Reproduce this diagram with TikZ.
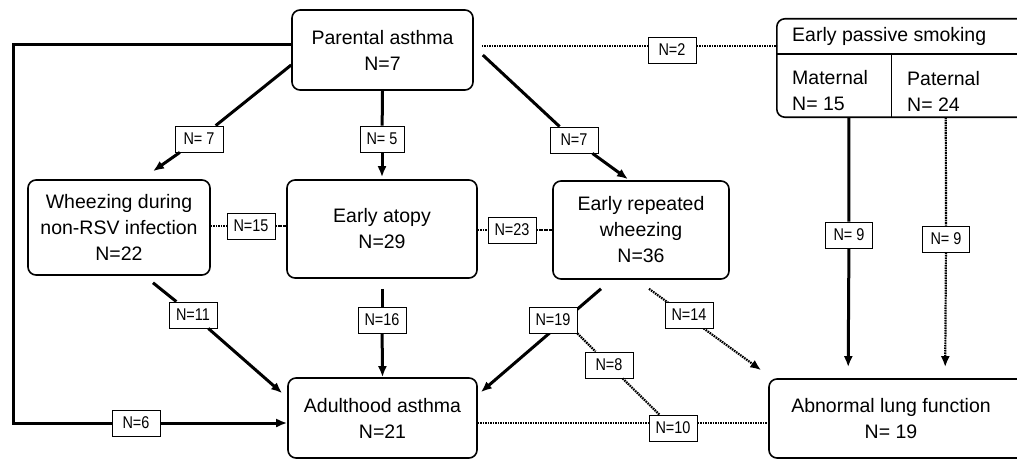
\documentclass[tikz,border=0pt]{standalone}
\usepackage{fontspec}
\setmainfont{Liberation Sans}
\newfontfamily\lblfont[FakeStretch=0.85]{Liberation Sans}
\usetikzlibrary{arrows.meta,calc}
\begin{document}
\begin{tikzpicture}[x=1pt,y=-1pt,
  box/.style={draw,line width=1.6pt,rounded corners=8pt,align=center,inner sep=0pt,font=\fontsize{19.5}{26}\selectfont},
  txt/.style={inner sep=0pt,align=left,font=\fontsize{19.5}{26}\selectfont},
  lbl/.style={draw,line width=0.8pt,fill=white,inner sep=0pt,minimum width=48pt,minimum height=26pt,font=\lblfont\fontsize{17}{18}\selectfont},
  solidcon/.style={line width=3pt},
  dotcon/.style={line width=2.2pt,dash pattern=on 1.6pt off 0.9pt},
  arr/.style={-{Latex[length=11pt,width=9pt]}},
]
\useasboundingbox (0,0) rectangle (1017,460);
\clip (0,0) rectangle (1017,460);
\fill[white] (0,0) rectangle (1017,460);

% main boxes
\node[box,minimum width=181pt,minimum height=80pt] (pa) at (382.5,50) {Parental asthma\\N=7};
\node[box,minimum width=182pt,minimum height=95pt] (wh) at (119,227.5) {Wheezing during\\non-RSV infection\\N=22};
\node[box,minimum width=190pt,minimum height=98pt] (at) at (382,229) {Early atopy\\N=29};
\node[box,minimum width=176pt,minimum height=98pt] (er) at (641,230) {Early repeated\\wheezing\\N=36};
\node[box,minimum width=189pt,minimum height=80pt] (aa) at (382.5,418) {Adulthood asthma\\N=21};
\node[box,minimum width=256pt,minimum height=79pt] (al) at (897,418.5) {\hspace*{-12pt}Abnormal lung function\\\hspace*{-12pt}N= 19};

% passive smoking box
\node[inner sep=0pt,minimum width=253pt,minimum height=98pt] (eps) at (903.5,68) {};
\draw[line width=1.6pt,rounded corners=8pt] (eps.north east) -- (eps.north west) -- (eps.south west) -- (eps.south east);
\draw[line width=1.6pt] ([yshift=-35pt]eps.north west) -- ([yshift=-35pt]eps.north east);
\draw[line width=1.2pt] ([xshift=115pt,yshift=-35pt]eps.north west) -- ([xshift=115pt]eps.south west);
\node[txt,anchor=west] (epst) at (792,36) {Early passive smoking};
\node[txt,anchor=west] (mat) at (792,91) {Maternal\\N= 15};
\node[txt,anchor=west] (pat) at (907,91) {Paternal\\N= 24};

% labels on through-lines
\node[lbl] (l7a) at (199,139) {N= 7};
\node[lbl,minimum width=44pt] (l5) at (382,139) {N= 5};
\node[lbl] (l7b) at (574,140) {N=7};
\node[lbl] (l6) at (136,423) {N=6};
\node[lbl] (l15) at (251,226) {N=15};
\node[lbl] (l23) at (512,230) {N=23};
\node[lbl] (l11) at (193,315) {N=11};
\node[lbl] (l16) at (382,320) {N=16};
\node[lbl,minimum width=47pt] (l9a) at (849,235) {N= 9};
\node[lbl,minimum width=47pt] (l9b) at (946,239) {N= 9};

% parental asthma connectors
\draw[solidcon] ([yshift=-15pt]pa.west) -- (l7a);
\draw[solidcon,arr] (l7a) -- ([xshift=34pt,yshift=8pt]wh.north);
\draw[solidcon] (pa.south) -- (l5);
\draw[solidcon,arr] (l5) -- ([yshift=2pt]at.north);
\draw[solidcon] ([xshift=9pt,yshift=-5pt]pa.east) -- (l7b);
\draw[solidcon,arr] (l7b) -- ([xshift=-13pt,yshift=1pt]er.north);
\coordinate (lc) at (13,423);
\draw[solidcon] ([yshift=5pt]pa.west) -| (lc) -- (l6);
\draw[solidcon,arr] (l6) -- ([yshift=-5pt]aa.west);
\draw[dotcon] ([xshift=8pt,yshift=4pt]pa.east) -- ([yshift=22pt]eps.west);
\node[lbl] (l2) at (672,50) {N=2};

% middle row dotted links
\draw[dotcon] (wh.east |- l15) -- (l15);
\draw[dotcon] (l15) -- (at.west |- l15);
\draw[dotcon] (at.east |- l23) -- (l23);
\draw[dotcon] (l23) -- (er.west |- l23);

% to adulthood asthma
\draw[solidcon] ([xshift=34pt,yshift=-7pt]wh.south) -- (l11);
\draw[solidcon,arr] (l11) -- ([xshift=-5pt,yshift=-16pt]aa.north west);
\draw[solidcon] ([yshift=-10pt]at.south) -- (l16);
\draw[solidcon,arr] (l16) -- (aa.north);
\draw[solidcon,arr] ([xshift=-40pt,yshift=-9pt]er.south) -- ([xshift=3pt,yshift=-15pt]aa.north east);
\node[lbl] (l19) at (553,320) {N=19};

% to abnormal lung function
\draw[dotcon,arr] ([xshift=8pt,yshift=-9pt]er.south) -- ([xshift=-7pt,yshift=8pt]al.north west);
\node[lbl] (l14) at (689,315) {N=14};
\draw[dotcon] ([yshift=-5pt]aa.east) -- ([yshift=-4.5pt]al.west);
\node[lbl] (l10) at (673,428) {N=10};
\node[lbl] (l8) at (609,365) {N=8};
\draw[dotcon] (l19.south east) -- (l8);
\draw[dotcon] (l8) -- (l10);

\draw[solidcon] ([xshift=72pt]eps.south west) -- (l9a);
\draw[solidcon,arr] (l9a) -- ([xshift=80pt,yshift=11pt]al.north west);
\draw[dotcon] ([xshift=169pt]eps.south west) -- (l9b);
\draw[dotcon,arr] (l9b) -- ([xshift=177pt,yshift=11pt]al.north west);
\end{tikzpicture}
\end{document}
